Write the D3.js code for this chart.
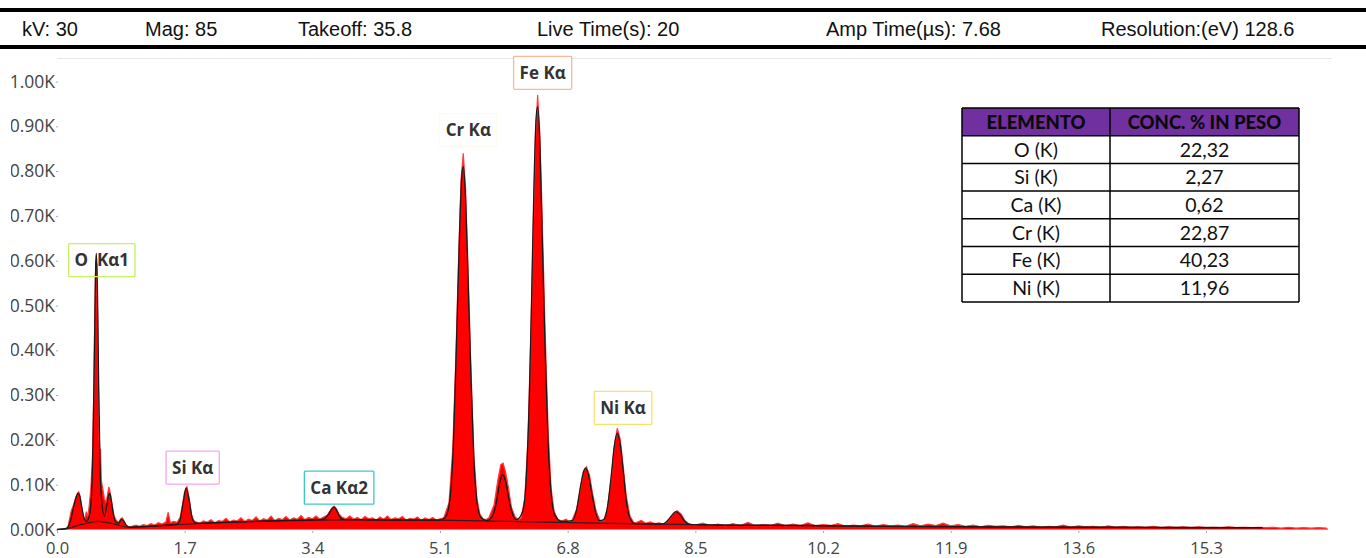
<!DOCTYPE html>
<html>
  <head>
    <script src="https://d3js.org/d3.v7.min.js"></script>
    <style>
      body { margin: 0; background: #fff; }
      svg { display: block; }
    </style>
  </head>
  <body>
    <script>
      // header values
      var headerItems = ["kV: 30", "Mag: 85", "Takeoff: 35.8", "Live Time(s): 20", "Amp Time(\u00b5s): 7.68", "Resolution:(eV) 128.6"];

      // axis ticks
      var xTicks = [0.0, 1.7, 3.4, 5.1, 6.8, 8.5, 10.2, 11.9, 13.6, 15.3];
      var yTicks = [0, 100, 200, 300, 400, 500, 600, 700, 800, 900, 1000];

      // measured spectrum [keV, counts]
      var spectrum = [
        [0.00,0],[0.14,0],[0.16,18],[0.19,42],[0.22,55],[0.25,72],[0.27,80],[0.29,84],[0.31,72],[0.33,48],
        [0.35,30],[0.37,22],[0.39,40],[0.41,28],[0.43,55],[0.45,90],[0.47,150],[0.49,300],[0.50,440],[0.51,560],
        [0.52,600],[0.53,590],[0.54,480],[0.55,340],[0.56,220],[0.57,160],[0.58,180],[0.59,110],[0.61,90],[0.63,70],
        [0.65,60],[0.67,75],[0.69,95],[0.70,90],[0.72,70],[0.74,50],[0.76,30],[0.79,20],[0.82,16],[0.85,24],
        [0.87,26],[0.89,20],[0.92,10],[0.95,6],[1.00,7],[1.05,10],[1.10,7],[1.15,11],[1.20,9],[1.25,13],
        [1.30,10],[1.35,15],[1.40,12],[1.45,17],[1.48,38],[1.51,15],[1.55,18],[1.60,16],[1.64,28],[1.67,55],
        [1.70,85],[1.73,95],[1.76,70],[1.79,35],[1.82,20],[1.85,17],[1.90,14],[1.95,19],[2.00,16],[2.05,22],
        [2.10,15],[2.15,20],[2.20,18],[2.25,25],[2.30,17],[2.35,21],[2.40,19],[2.45,26],[2.50,18],[2.55,23],
        [2.60,20],[2.65,28],[2.70,19],[2.75,24],[2.80,21],[2.85,30],[2.90,20],[2.95,25],[3.00,22],[3.05,29],
        [3.10,21],[3.15,26],[3.20,23],[3.25,31],[3.30,22],[3.35,27],[3.40,24],[3.45,30],[3.50,23],[3.55,28],
        [3.60,32],[3.63,40],[3.66,48],[3.69,52],[3.72,46],[3.75,36],[3.79,28],[3.85,24],[3.90,30],[3.95,23],
        [4.00,27],[4.05,22],[4.10,29],[4.15,24],[4.20,26],[4.25,21],[4.30,28],[4.35,23],[4.40,30],[4.45,22],
        [4.50,26],[4.55,24],[4.60,29],[4.65,21],[4.70,25],[4.75,23],[4.80,28],[4.85,20],[4.90,26],[4.95,22],
        [5.00,27],[5.05,21],[5.10,24],[5.15,26],[5.22,60],[5.27,180],[5.31,380],[5.35,620],[5.38,780],[5.41,840],
        [5.44,760],[5.47,600],[5.51,370],[5.55,170],[5.59,70],[5.63,35],[5.67,24],[5.71,22],[5.75,26],[5.82,55],
        [5.87,110],[5.91,145],[5.94,148],[5.97,130],[6.01,95],[6.05,50],[6.10,28],[6.15,22],[6.18,26],[6.23,70],
        [6.27,200],[6.31,430],[6.34,660],[6.37,870],[6.40,970],[6.43,880],[6.46,700],[6.50,440],[6.54,220],[6.58,90],
        [6.62,40],[6.67,22],[6.72,19],[6.78,23],[6.82,17],[6.86,21],[6.92,45],[6.97,92],[7.01,130],[7.05,140],
        [7.09,122],[7.13,82],[7.18,40],[7.23,20],[7.28,20],[7.33,48],[7.38,115],[7.42,185],[7.46,226],[7.50,202],
        [7.54,140],[7.58,75],[7.63,30],[7.68,15],[7.72,16],[7.78,20],[7.84,14],[7.90,17],[7.96,13],[8.02,15],
        [8.06,12],[8.10,14],[8.16,24],[8.21,36],[8.26,42],[8.31,35],[8.36,20],[8.42,12],[8.46,11],
        [8.50,10],[8.60,14],[8.70,9],[8.80,12],[8.90,8],[9.00,13],[9.10,9],[9.20,16],[9.30,8],[9.40,11],
        [9.50,9],[9.60,14],[9.70,8],[9.80,12],[9.90,9],[10.00,15],[10.10,8],[10.20,11],[10.30,9],[10.40,13],
        [10.50,7],[10.60,10],[10.70,8],[10.80,12],[10.90,7],[11.00,11],[11.10,8],[11.20,10],[11.30,7],[11.40,13],
        [11.50,8],[11.60,12],[11.70,9],[11.80,14],[11.90,8],[12.00,11],[12.10,7],[12.20,10],[12.30,6],[12.40,9],
        [12.50,7],[12.60,8],[12.70,6],[12.80,9],[12.90,6],[13.00,8],[13.10,5],[13.20,7],[13.30,6],[13.40,10],
        [13.50,5],[13.60,8],[13.70,6],[13.80,7],[13.90,5],[14.00,8],[14.10,5],[14.20,7],[14.30,5],[14.40,6],
        [14.50,5],[14.60,7],[14.70,4],[14.80,6],[14.90,5],[15.00,6],[15.10,4],[15.20,6],[15.30,4],[15.40,5],
        [15.50,4],[15.60,6],[15.70,4],[15.80,5],[15.90,4],[16.00,5],[16.10,4],[16.20,5],[16.30,3],[16.40,5],
        [16.50,3],[16.60,4],[16.70,3],[16.80,4],[16.90,3],[16.92,0]
      ];

      // fitted spectrum [keV, counts]
      var fit = [
        [0.00,0],[0.12,2],[0.18,20],[0.22,50],[0.26,74],[0.28,81],[0.30,76],[0.33,50],[0.36,25],[0.39,18],
        [0.43,30],[0.46,80],[0.48,200],[0.50,420],[0.515,590],[0.525,617],[0.54,520],[0.555,320],[0.575,130],[0.60,55],
        [0.63,30],[0.66,50],[0.69,78],[0.705,80],[0.72,68],[0.75,35],[0.78,18],[0.82,14],[0.86,23],[0.89,18],
        [0.93,8],[0.98,5],[1.2,7],[1.5,10],[1.6,12],[1.64,22],[1.68,60],[1.72,93],[1.76,65],[1.80,25],
        [1.85,14],[2.2,16],[2.8,19],[3.4,21],[3.55,23],[3.62,35],[3.66,46],[3.69,50],[3.72,44],[3.76,30],
        [3.82,22],[4.5,21],[5.1,21],[5.18,30],[5.24,80],[5.28,200],[5.32,420],[5.36,660],[5.39,790],[5.41,810],
        [5.44,740],[5.47,580],[5.51,350],[5.55,160],[5.59,65],[5.64,28],[5.72,20],[5.80,30],[5.85,60],[5.89,100],
        [5.93,122],[5.97,110],[6.01,75],[6.06,38],[6.12,22],[6.20,40],[6.25,120],[6.29,300],[6.32,520],[6.35,760],
        [6.38,920],[6.40,944],[6.43,860],[6.46,660],[6.50,400],[6.54,190],[6.58,80],[6.63,32],[6.72,18],[6.86,20],
        [6.92,45],[6.97,95],[7.01,128],[7.04,137],[7.08,120],[7.12,82],[7.17,40],[7.22,20],[7.28,22],[7.33,50],
        [7.38,120],[7.42,185],[7.46,215],[7.50,190],[7.54,130],[7.58,65],[7.63,25],[7.70,13],[8.05,12],[8.12,18],
        [8.18,30],[8.24,40],[8.30,32],[8.36,18],[8.44,11],[9.5,9],[11,7],[12.5,6],[14,5],[16.05,4]
      ];

      // background continuum [keV, counts]
      var background = [
        [0.00,0],[0.15,3],[0.30,10],[0.45,16],[0.55,18],[0.65,16],[0.80,11],[0.95,5],[1.1,6],[1.5,10],
        [2.0,14],[2.5,17],[3.0,20],[3.5,21],[4.0,22],[4.5,21],[5.0,21],[6.0,18],[7.0,15],[8.0,12],
        [9.0,10],[10.0,9],[11.0,7],[12.0,6],[13.0,5],[14.0,5],[15.0,4],[16.05,4]
      ];

      // peak labels
      var peakNames = ["O  K\u03b11", "Si K\u03b1", "Ca K\u03b12", "Cr K\u03b1", "Fe K\u03b1", "Ni K\u03b1"];
      var peakEnergy = [0.53, 1.74, 3.69, 5.41, 6.40, 7.47];
      var peakLevel = [560, 97, 52, 850, 978, 230];
      var peakColors = ["#c8f060", "#f4a6f4", "#3cc8c8", "#fdfaee", "#f9b699", "#f6e36a"];

      // composition table
      var tableHead = ["ELEMENTO", "CONC. % IN PESO"];
      var elements = ["O (K)", "Si (K)", "Ca (K)", "Cr (K)", "Fe (K)", "Ni (K)"];
      var concentrations = ["22,32", "2,27", "0,62", "22,87", "40,23", "11,96"];

      var svg = d3.select("body").append("svg")
          .attr("width", 1366)
          .attr("height", 558);

      /* header strip */
      var headerX = [22, 145, 298, 537, 826, 1101];
      svg.append("rect").attr("x", 0).attr("y", 8).attr("width", 1366).attr("height", 4).attr("fill", "#000");
      svg.append("rect").attr("x", 0).attr("y", 45).attr("width", 1366).attr("height", 4).attr("fill", "#000");
      svg.selectAll(".head")
          .data(headerItems)
        .enter().append("text")
          .attr("class", "head")
          .attr("x", function(d, i) { return headerX[i]; })
          .attr("y", 35.5)
          .style("font-family", "'Liberation Sans', Arial, sans-serif")
          .style("font-size", "20px")
          .attr("fill", "#111")
          .text(function(d) { return d; });

      /* scales */
      var x = d3.scaleLinear().domain([0, 17]).range([57, 57 + 17 * 75.1]);
      var y = d3.scaleLinear().domain([0, 1000]).range([529.5, 81.5]);

      svg.append("line")
          .attr("x1", 57).attr("x2", 1332)
          .attr("y1", 58.5).attr("y2", 58.5)
          .attr("stroke", "#e6e6e6");

      // the y labels are cut at the left edge in the original
      svg.append("clipPath").attr("id", "labclip")
        .append("rect").attr("x", 11).attr("y", 50).attr("width", 1355).attr("height", 508);

      /* y axis */
      var gy = svg.append("g")
          .attr("clip-path", "url(#labclip)")
        .append("g")
          .attr("transform", "translate(58,0)")
          .call(d3.axisLeft(y).tickValues(yTicks).tickSize(2).tickPadding(1)
            .tickFormat(function(d) { return (d / 1000).toFixed(2) + "K"; }));
      gy.select(".domain").remove();

      /* x axis */
      var gx = svg.append("g")
          .attr("transform", "translate(0,531)")
          .call(d3.axisBottom(x).tickValues(xTicks).tickSize(2).tickPadding(9)
            .tickFormat(function(d) { return d.toFixed(1); }));
      gx.select(".domain").remove();

      svg.selectAll(".tick line").attr("stroke", "#aaa");
      svg.selectAll(".tick text")
          .style("font-family", "'Open Sans', sans-serif")
          .style("font-size", "16.5px")
          .attr("fill", "#444");
      gy.selectAll(".tick text").style("font-size", "17.5px");

      /* spectrum */
      var area = d3.area()
          .x(function(d) { return x(d[0]); })
          .y0(y(0))
          .y1(function(d) { return y(d[1]); });
      var line = d3.line()
          .x(function(d) { return x(d[0]); })
          .y(function(d) { return y(d[1]); });

      svg.append("path")
          .datum(spectrum)
          .attr("d", area)
          .attr("fill", "#ff0000");
      svg.append("path")
          .datum(spectrum)
          .attr("d", line)
          .attr("fill", "none")
          .attr("stroke", "#ff3b3b")
          .attr("stroke-width", 1.2);

      svg.append("path")
          .datum(background)
          .attr("d", line.curve(d3.curveMonotoneX))
          .attr("fill", "none")
          .attr("stroke", "#222")
          .attr("stroke-width", 1.2);
      svg.append("path")
          .datum(fit)
          .attr("d", line.curve(d3.curveMonotoneX))
          .attr("fill", "none")
          .attr("stroke", "#1a1a1a")
          .attr("stroke-width", 1.3);

      /* peak labels */
      var labs = svg.selectAll(".peak")
          .data(peakNames)
        .enter().append("g")
          .attr("class", "peak");
      labs.each(function(d, i) {
        var g = d3.select(this);
        var cx = x(peakEnergy[i]) + 5;
        var bottom = y(peakLevel[i]) - 2;
        var rect = g.append("rect");
        var t = g.append("text")
            .attr("x", cx)
            .attr("y", bottom - 16.5)
            .attr("dy", "0.36em")
            .attr("text-anchor", "middle")
            .style("white-space", "pre")
            .style("font-family", "'Open Sans', sans-serif")
            .style("font-size", "17px")
            .style("font-weight", "700")
            .attr("fill", "#333")
            .text(d);
        var w = t.node().getComputedTextLength() + 12;
        rect.attr("x", cx - w / 2)
            .attr("y", bottom - 33)
            .attr("width", w)
            .attr("height", 33)
            .attr("rx", 1)
            .attr("fill", i == 0 ? "none" : "#fff")
            .attr("stroke", peakColors[i])
            .attr("stroke-width", 1.3);
      });

      /* table */
      var tx = [962, 1110, 1299];
      var ty = d3.range(8).map(function(i) { return 108 + i * 27.7; });
      var tbl = svg.append("g");
      tbl.append("rect")
          .attr("x", tx[0]).attr("y", ty[0])
          .attr("width", tx[2] - tx[0]).attr("height", ty[1] - ty[0])
          .attr("fill", "#7030a0");
      tbl.append("rect")
          .attr("x", tx[0]).attr("y", ty[1])
          .attr("width", tx[2] - tx[0]).attr("height", ty[7] - ty[1])
          .attr("fill", "#fff");
      ty.forEach(function(v) {
        tbl.append("line").attr("x1", tx[0]).attr("x2", tx[2]).attr("y1", v).attr("y2", v)
            .attr("stroke", "#000").attr("stroke-width", 1.5);
      });
      tx.forEach(function(v) {
        tbl.append("line").attr("x1", v).attr("x2", v).attr("y1", ty[0]).attr("y2", ty[7])
            .attr("stroke", "#000").attr("stroke-width", 1.5);
      });
      tableHead.forEach(function(h, j) {
        tbl.append("text")
            .attr("x", (tx[j] + tx[j + 1]) / 2)
            .attr("y", (ty[0] + ty[1]) / 2)
            .attr("dy", "0.36em")
            .attr("text-anchor", "middle")
            .style("font-family", "Lato, sans-serif")
            .style("font-size", "18.5px")
            .style("font-weight", "900")
            .attr("fill", "#0a0a0a")
            .text(h);
      });
      elements.forEach(function(e, i) {
        [e, concentrations[i]].forEach(function(v, j) {
          tbl.append("text")
              .attr("x", (tx[j] + tx[j + 1]) / 2)
              .attr("y", (ty[i + 1] + ty[i + 2]) / 2)
              .attr("dy", "0.36em")
              .attr("text-anchor", "middle")
              .style("font-family", "Lato, sans-serif")
              .style("font-size", "19.5px")
              .attr("fill", "#111")
              .text(v);
        });
      });
    </script>
  </body>
</html>
